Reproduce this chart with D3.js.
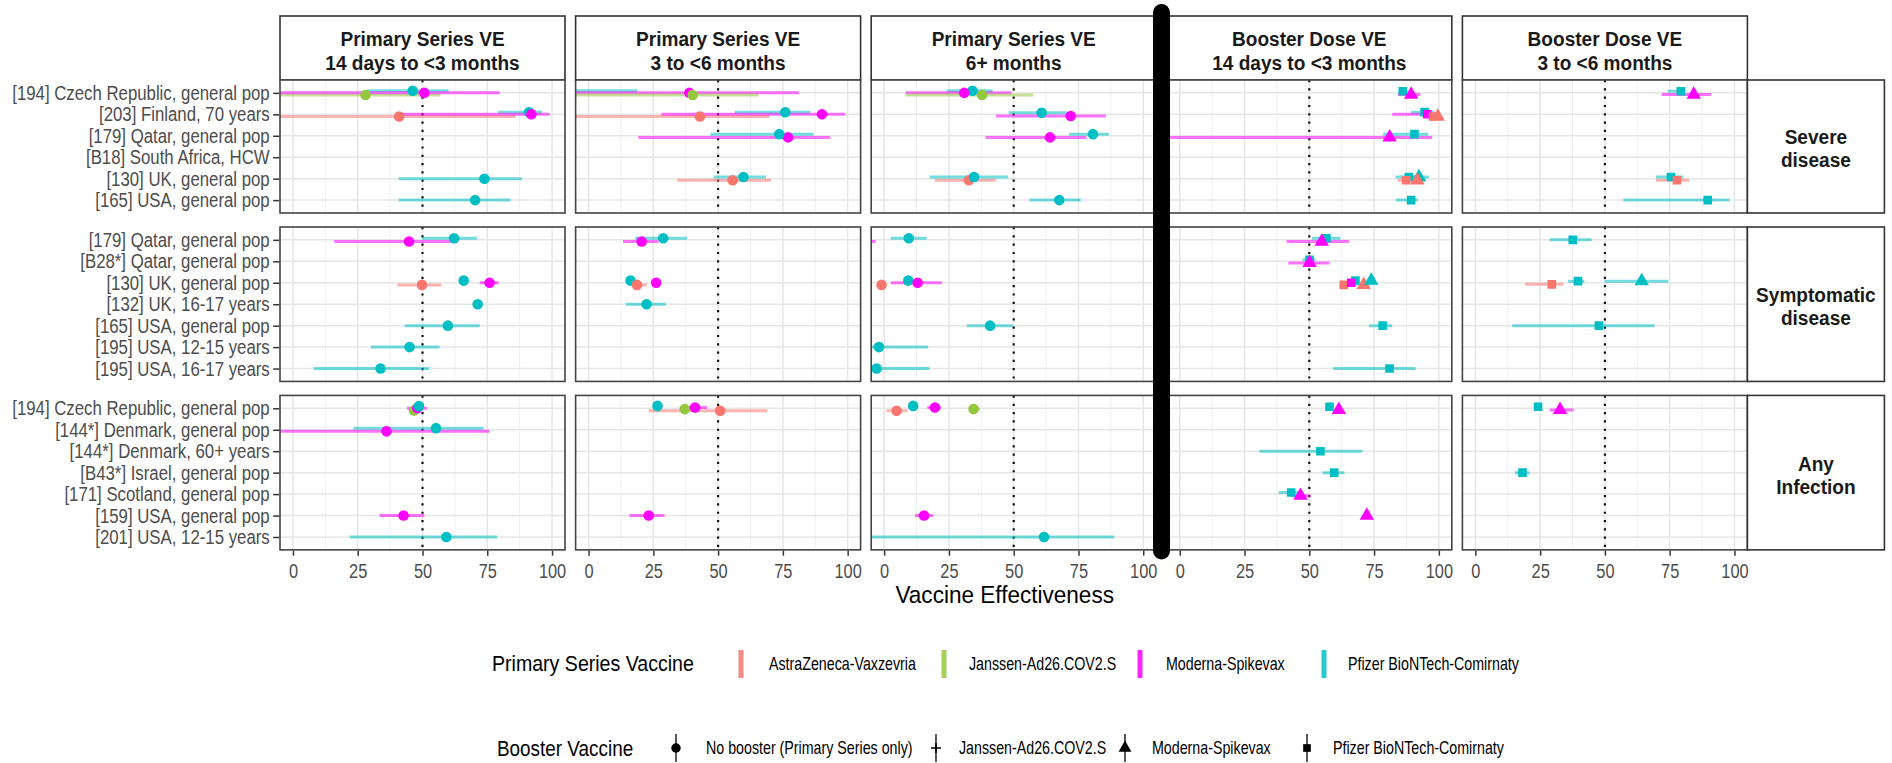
<!DOCTYPE html>
<html><head><meta charset="utf-8">
<script src="https://cdn.jsdelivr.net/npm/d3@7"></script>
<style>body{margin:0;background:#fff;} svg{display:block;font-family:"Liberation Sans",Arial,sans-serif;}</style>
</head><body><svg id="chart" width="1892" height="763"></svg>
<script>
// ---------------- DATA ----------------
const panelTitles = [
  ["Primary Series VE", "14 days to <3 months"],
  ["Primary Series VE", "3 to <6 months"],
  ["Primary Series VE", "6+ months"],
  ["Booster Dose VE", "14 days to <3 months"],
  ["Booster Dose VE", "3 to <6 months"]
];
const outcomeLabels = [["Severe", "disease"], ["Symptomatic", "disease"], ["Any", "Infection"]];
const outcomeKeys = ["sev", "sym", "inf"];
const severeStudies = ["[194] Czech Republic, general pop", "[203] Finland, 70 years", "[179] Qatar, general pop",
  "[B18] South Africa, HCW", "[130] UK, general pop", "[165] USA, general pop"];
const symptomaticStudies = ["[179] Qatar, general pop", "[B28*] Qatar, general pop", "[130] UK, general pop",
  "[132] UK, 16-17  years", "[165] USA, general pop", "[195] USA, 12-15 years", "[195] USA, 16-17 years"];
const infectionStudies = ["[194] Czech Republic, general pop", "[144*] Denmark, general pop", "[144*] Denmark, 60+ years",
  "[B43*] Israel, general pop", "[171] Scotland, general pop", "[159] USA, general pop", "[201] USA, 12-15 years"];
const vaccineCodes = ["AZ", "JJ", "MOD", "PFZ"];
const primaryVaccineNames = ["AstraZeneca-Vaxzevria", "Janssen-Ad26.COV2.S", "Moderna-Spikevax", "Pfizer BioNTech-Comirnaty"];
const boosterCodes = ["none", "JJ", "MOD", "PFZ"];
const boosterNames = ["No booster (Primary Series only)", "Janssen-Ad26.COV2.S", "Moderna-Spikevax", "Pfizer BioNTech-Comirnaty"];
const xTicks = [0, 25, 50, 75, 100];
const xDomain = [-5, 105];
const referenceVE = 50;

// rows: [outcome, studyIndex, primaryVaccine, booster, VE, lower, upper]
const primary14d = [
  ["sev",0,"PFZ","none",46.2,28.6,60.1], ["sev",0,"JJ","none",28.0,-20,57.0], ["sev",0,"MOD","none",50.7,-20,79.8],
  ["sev",1,"AZ","none",41.0,-30,85.8], ["sev",1,"PFZ","none",91.1,79.2,96.1], ["sev",1,"MOD","none",92.0,42.0,99.1],
  ["sev",4,"PFZ","none",73.9,40.8,88.4], ["sev",5,"PFZ","none",70.3,40.8,83.9],
  ["sym",0,"PFZ","none",62.2,49.8,71.0], ["sym",0,"MOD","none",44.8,15.9,63.7],
  ["sym",2,"AZ","none",49.8,40.3,57.3], ["sym",2,"PFZ","none",65.9,64.8,67.0], ["sym",2,"MOD","none",75.9,72.1,79.4],
  ["sym",3,"PFZ","none",71.3,70.0,72.6], ["sym",4,"PFZ","none",59.8,43.1,72.1],
  ["sym",5,"PFZ","none",45.0,30.1,56.6], ["sym",6,"PFZ","none",33.8,8.0,52.5],
  ["inf",0,"JJ","none",46.7,45.5,48.0], ["inf",0,"MOD","none",48.0,44.0,51.7], ["inf",0,"PFZ","none",48.6,47.5,49.7],
  ["inf",1,"PFZ","none",55.2,23.4,73.6], ["inf",1,"MOD","none",36.1,-30,75.9],
  ["inf",5,"MOD","none",42.7,33.4,50.7], ["inf",6,"PFZ","none",59.2,21.9,78.8]
];
const primary3to6 = [
  ["sev",0,"PFZ","none",-10,-40,18.9], ["sev",0,"MOD","none",38.9,-30,81.2], ["sev",0,"JJ","none",40.2,-30,65.6],
  ["sev",1,"AZ","none",43.0,-30,69.8], ["sev",1,"PFZ","none",75.9,56.4,85.6], ["sev",1,"MOD","none",90.1,28.1,99.0],
  ["sev",2,"MOD","none",77.0,19.2,93.3], ["sev",2,"PFZ","none",73.6,47.0,86.9],
  ["sev",4,"AZ","none",55.6,34.2,70.4], ["sev",4,"PFZ","none",59.8,48.3,68.5],
  ["sym",0,"PFZ","none",28.8,18.0,38.0], ["sym",0,"MOD","none",20.5,13.3,27.0],
  ["sym",2,"PFZ","none",16.2,15.0,17.5], ["sym",2,"AZ","none",18.7,16.5,22.5], ["sym",2,"MOD","none",26.1,25.0,27.2],
  ["sym",3,"PFZ","none",22.4,14.4,29.9],
  ["inf",0,"AZ","none",50.8,23.2,68.9], ["inf",0,"PFZ","none",26.6,25.0,28.5], ["inf",0,"JJ","none",37.1,35.5,38.5],
  ["inf",0,"MOD","none",41.1,37.0,45.7], ["inf",5,"MOD","none",23.2,15.8,29.3]
];
const primary6plus = [
  ["sev",0,"PFZ","none",34.1,24.1,41.9], ["sev",0,"MOD","none",30.9,8.3,49.2], ["sev",0,"JJ","none",37.8,8.3,57.5],
  ["sev",1,"PFZ","none",60.8,48.1,70.4], ["sev",1,"MOD","none",72.0,43.1,85.6],
  ["sev",2,"MOD","none",64.0,39.1,78.1], ["sev",2,"PFZ","none",80.6,71.3,86.8],
  ["sev",4,"AZ","none",32.7,19.6,43.0], ["sev",4,"PFZ","none",34.7,17.6,47.9], ["sev",5,"PFZ","none",67.6,56.1,75.9],
  ["sym",0,"PFZ","none",9.5,2.5,16.4], ["sym",0,"MOD","none",-8,-15,-3.3],
  ["sym",2,"AZ","none",-1.0,-2.0,0.0], ["sym",2,"PFZ","none",9.3,8.5,10.0], ["sym",2,"MOD","none",12.9,2.6,22.2],
  ["sym",4,"PFZ","none",40.9,31.9,49.7], ["sym",5,"PFZ","none",-2.0,-20,17.0], ["sym",6,"PFZ","none",-2.9,-20,17.5],
  ["inf",0,"AZ","none",4.8,0.9,9.0], ["inf",0,"PFZ","none",11.2,10.5,12.0], ["inf",0,"MOD","none",19.6,16.7,21.9],
  ["inf",0,"JJ","none",34.5,32.7,37.0], ["inf",5,"MOD","none",15.4,11.9,18.9], ["inf",6,"PFZ","none",61.7,-30,88.8]
];
const booster14d = [
  ["sev",0,"PFZ","PFZ",86.1,84.5,88.0], ["sev",0,"MOD","MOD",89.3,84.2,92.9],
  ["sev",1,"PFZ","PFZ",94.5,89.3,98.2], ["sev",1,"MOD","PFZ",95.5,82.0,99.4], ["sev",1,"AZ","PFZ",97.8,96.0,99.0], ["sev",1,"AZ","MOD",99.6,98.5,100],
  ["sev",2,"MOD","MOD",81.0,-30,97.4], ["sev",2,"PFZ","PFZ",90.6,78.5,95.9],
  ["sev",4,"PFZ","PFZ",88.4,83.3,93.0], ["sev",4,"PFZ","MOD",92.3,88.0,96.1], ["sev",4,"AZ","PFZ",87.4,84.0,91.0], ["sev",4,"AZ","MOD",91.7,88.0,95.0],
  ["sev",5,"PFZ","PFZ",89.3,83.4,91.9],
  ["sym",0,"PFZ","PFZ",56.6,51.1,62.0], ["sym",0,"MOD","MOD",54.8,41.2,65.4],
  ["sym",1,"PFZ","PFZ",50.1,47.4,52.4], ["sym",1,"MOD","MOD",50.1,41.9,57.8],
  ["sym",2,"AZ","PFZ",63.3,62.0,64.5], ["sym",2,"PFZ","PFZ",67.8,66.5,69.0], ["sym",2,"MOD","PFZ",66.2,65.0,67.5],
  ["sym",2,"AZ","MOD",71.0,69.5,72.5], ["sym",2,"PFZ","MOD",73.9,72.5,75.5],
  ["sym",4,"PFZ","PFZ",78.3,73.1,82.0], ["sym",6,"PFZ","PFZ",81.0,59.2,91.0],
  ["inf",0,"PFZ","PFZ",57.8,56.5,59.0], ["inf",0,"MOD","MOD",61.4,60.0,62.5],
  ["inf",2,"PFZ","PFZ",54.3,30.7,70.5], ["inf",3,"PFZ","PFZ",59.6,55.1,63.6],
  ["inf",4,"PFZ","PFZ",43.0,38.2,46.0], ["inf",4,"MOD","MOD",46.6,43.1,50.5], ["inf",5,"MOD","MOD",72.2,71.5,73.0]
];
const booster3to6 = [
  ["sev",0,"PFZ","PFZ",79.3,74.2,81.0], ["sev",0,"MOD","MOD",84.3,71.9,91.0],
  ["sev",4,"PFZ","PFZ",75.5,69.7,80.3], ["sev",4,"AZ","PFZ",77.8,69.7,82.5], ["sev",5,"PFZ","PFZ",89.7,57.1,98.1],
  ["sym",0,"PFZ","PFZ",37.6,28.7,44.9],
  ["sym",2,"AZ","PFZ",29.5,19.2,34.0], ["sym",2,"PFZ","PFZ",39.6,35.8,42.1], ["sym",2,"PFZ","MOD",64.2,49.9,74.5],
  ["sym",4,"PFZ","PFZ",47.7,14.2,69.1],
  ["inf",0,"PFZ","PFZ",24.2,23.0,25.5], ["inf",0,"MOD","MOD",32.7,28.7,38.0], ["inf",3,"PFZ","PFZ",18.2,15.2,21.0]
];
const panelData = [primary14d, primary3to6, primary6plus, booster14d, booster3to6];

// ---------------- STYLE / LAYOUT ----------------
const vaccineColour = d3.scaleOrdinal().domain(vaccineCodes).range(["#F8766D", "#93C83E", "#FF00FF", "#00BFC4"]);
const W = 1892, H = 763;
const left0 = 280, step = 295.6, pw = 285;
const unit = 21.45, gap = 14, top0 = 80, stripTop = 16;
const stripW = 137;
const svg = d3.select("#chart");
svg.append("rect").attr("width", W).attr("height", H).attr("fill", "#fff");

function addText(g, x, y, str, o) {
  return g.append("text")
    .attr("transform", `translate(${x},${y}) scale(${o.sx || 1},1)`)
    .attr("text-anchor", o.anchor || "start")
    .attr("font-size", o.size).attr("font-weight", o.weight || "normal")
    .attr("fill", o.fill || "#000").text(str);
}

// facets
const studyLists = [severeStudies, symptomaticStudies, infectionStudies];
let yTop = top0;
const facets = studyLists.map((st, i) => {
  const h = (st.length + 0.2) * unit;
  const y = d3.scalePoint().domain(st).range([yTop, yTop + h]).padding(0.6);
  const f = { key: outcomeKeys[i], top: yTop, h, y, studies: st, label: outcomeLabels[i] };
  yTop += h + gap;
  return f;
});

const dodgeRank = { PFZ: 0, MOD: 1, JJ: 2, AZ: 3 };
function dodgeOffsets(rows) {
  const off = new Map();
  d3.group(rows, r => r[0] + "|" + r[1]).forEach((arr, k) => {
    const vs = [...new Set(arr.map(r => r[2]))].sort((a, b) => dodgeRank[a] - dodgeRank[b]);
    const n = vs.length, Wd = 0.3 * unit;
    vs.forEach((v, i) => off.set(k + "|" + v, n > 1 ? -Wd / 2 + Wd / n * (i + 0.5) : 0));
  });
  return off;
}
function symbolPath(b, s) {
  const k = s || 1;
  if (b === "none") return d3.symbol(d3.symbolCircle, 88 * k)();
  if (b === "PFZ") return d3.symbol(d3.symbolSquare, 74 * k)();
  if (b === "MOD") return d3.symbol(d3.symbolTriangle, 90 * k)();
  return "M-5,0H5M0,-5V5";
}
const minorTicks = xTicks.slice(1).map((t, i) => (t + xTicks[i]) / 2);

panelData.forEach((rows, pi) => {
  const px = left0 + pi * step;
  const x = d3.scaleLinear().domain(xDomain).range([px, px + pw]);
  // header strip
  const hs = svg.append("g");
  hs.append("rect").attr("x", px).attr("y", stripTop).attr("width", pw).attr("height", top0 - stripTop)
    .attr("fill", "#fff").attr("stroke", "#333").attr("stroke-width", 1.6);
  const hc = (stripTop + top0) / 2;
  addText(hs, px + pw / 2, hc - 2, panelTitles[pi][0], { size: 20.5, weight: "bold", sx: 0.93, anchor: "middle", fill: "#1a1a1a" });
  addText(hs, px + pw / 2, hc + 21.5, panelTitles[pi][1], { size: 20.5, weight: "bold", sx: 0.93, anchor: "middle", fill: "#1a1a1a" });

  const offs = dodgeOffsets(rows);
  facets.forEach((f, fi) => {
    const g = svg.append("g");
    g.append("rect").attr("x", px).attr("y", f.top).attr("width", pw).attr("height", f.h).attr("fill", "#fff");
    g.selectAll("line.minor").data(minorTicks).join("line")
      .attr("x1", d => x(d)).attr("x2", d => x(d)).attr("y1", f.top).attr("y2", f.top + f.h)
      .attr("stroke", "#f0f0f0").attr("stroke-width", 1);
    g.selectAll("line.major").data(xTicks).join("line")
      .attr("x1", d => x(d)).attr("x2", d => x(d)).attr("y1", f.top).attr("y2", f.top + f.h)
      .attr("stroke", "#e6e6e6").attr("stroke-width", 1.5);
    g.selectAll("line.rowg").data(f.studies).join("line")
      .attr("x1", px).attr("x2", px + pw).attr("y1", d => f.y(d)).attr("y2", d => f.y(d))
      .attr("stroke", "#e6e6e6").attr("stroke-width", 1.5);
    const clipId = `clip${pi}_${fi}`;
    svg.append("clipPath").attr("id", clipId).append("rect")
      .attr("x", px).attr("y", f.top).attr("width", pw).attr("height", f.h);
    const mg = g.append("g").attr("clip-path", `url(#${clipId})`);
    mg.append("line").attr("x1", x(referenceVE)).attr("x2", x(referenceVE)).attr("y1", f.top).attr("y2", f.top + f.h)
      .attr("stroke", "#111").attr("stroke-width", 2.2).attr("stroke-dasharray", "2.2 6.1");
    const fr = rows.filter(r => r[0] === f.key);
    const yOf = r => f.y(f.studies[r[1]]) + offs.get(r[0] + "|" + r[1] + "|" + r[2]);
    mg.selectAll("line.ci").data(fr.filter(r => r[6] > r[5])).join("line")
      .attr("x1", r => x(r[5])).attr("x2", r => x(r[6])).attr("y1", yOf).attr("y2", yOf)
      .attr("stroke", r => vaccineColour(r[2])).attr("stroke-width", 3).attr("stroke-opacity", 0.55);
    mg.selectAll("path.pt").data(fr).join("path")
      .attr("transform", r => `translate(${x(r[4])},${yOf(r)})`)
      .attr("d", r => symbolPath(r[3]))
      .attr("fill", r => vaccineColour(r[2]));
    g.append("rect").attr("x", px).attr("y", f.top).attr("width", pw).attr("height", f.h)
      .attr("fill", "none").attr("stroke", "#444").attr("stroke-width", 1.6);
    if (pi === 0) {
      const ax = g.append("g").attr("transform", `translate(${px - 0.8},0)`)
        .call(d3.axisLeft(f.y).tickSize(6).tickSizeOuter(0));
      ax.select(".domain").remove();
      ax.selectAll(".tick line").attr("stroke", "#333").attr("stroke-width", 1.5);
      ax.selectAll(".tick text").attr("x", null).attr("dy", null)
        .attr("transform", "translate(-9.5,6.5) scale(0.87,1)")
        .attr("font-size", 19.3).attr("fill", "#4d4d4d").attr("font-family", '"Liberation Sans",Arial,sans-serif');
    }
    if (fi === facets.length - 1) {
      const ax = g.append("g").attr("transform", `translate(0,${f.top + f.h + 0.8})`)
        .call(d3.axisBottom(x).tickValues(xTicks).tickSize(5).tickSizeOuter(0));
      ax.select(".domain").remove();
      ax.selectAll(".tick line").attr("stroke", "#333").attr("stroke-width", 1.5);
      ax.selectAll(".tick text").attr("y", null).attr("dy", null)
        .attr("transform", "translate(0,27) scale(0.78,1)")
        .attr("font-size", 21).attr("fill", "#4d4d4d").attr("font-family", '"Liberation Sans",Arial,sans-serif');
    }
    if (pi === panelData.length - 1) {
      const sx0 = px + pw;
      g.append("rect").attr("x", sx0).attr("y", f.top).attr("width", stripW).attr("height", f.h)
        .attr("fill", "#fff").attr("stroke", "#333").attr("stroke-width", 1.6);
      const c = f.top + f.h / 2;
      addText(g, sx0 + stripW / 2, c - 2, f.label[0], { size: 20.5, weight: "bold", sx: 0.93, anchor: "middle", fill: "#1a1a1a" });
      addText(g, sx0 + stripW / 2, c + 21, f.label[1], { size: 20.5, weight: "bold", sx: 0.93, anchor: "middle", fill: "#1a1a1a" });
    }
  });
});

// black separator bar
svg.append("line").attr("x1", 1161.5).attr("x2", 1161.5).attr("y1", 12.5).attr("y2", 551)
  .attr("stroke", "#000").attr("stroke-width", 17).attr("stroke-linecap", "round");

// axis title
const plotMid = (left0 + left0 + 4 * step + pw) / 2;
addText(svg, plotMid - 9, 603, "Vaccine Effectiveness", { size: 24, sx: 0.94, anchor: "middle" });

// legends
const lg1 = svg.append("g");
addText(lg1, 492, 671, "Primary Series Vaccine", { size: 22.5, sx: 0.87 });
const key1X = [741, 944, 1140, 1324], txt1X = [769, 969, 1166, 1348];
vaccineCodes.forEach((v, i) => {
  lg1.append("rect").attr("x", key1X[i] - 2.5).attr("y", 650).attr("width", 5).attr("height", 28)
    .attr("fill", vaccineColour(v)).attr("fill-opacity", 0.85);
  addText(lg1, txt1X[i], 670, primaryVaccineNames[i], { size: 19, sx: 0.75 });
});
const lg2 = svg.append("g");
addText(lg2, 497, 756, "Booster Vaccine", { size: 22.5, sx: 0.84 });
const key2X = [676, 936, 1125, 1307], txt2X = [706, 959, 1152, 1333];
boosterCodes.forEach((b, i) => {
  lg2.append("line").attr("x1", key2X[i]).attr("x2", key2X[i]).attr("y1", 734).attr("y2", 762)
    .attr("stroke", "#000").attr("stroke-width", 1.3);
  const p = lg2.append("path").attr("transform", `translate(${key2X[i]},748)`).attr("d", symbolPath(b, 0.8));
  if (b === "JJ") p.attr("fill", "none").attr("stroke", "#000").attr("stroke-width", 1.5);
  else p.attr("fill", "#000");
  addText(lg2, txt2X[i], 754, boosterNames[i], { size: 19, sx: 0.75 });
});
</script></body></html>
